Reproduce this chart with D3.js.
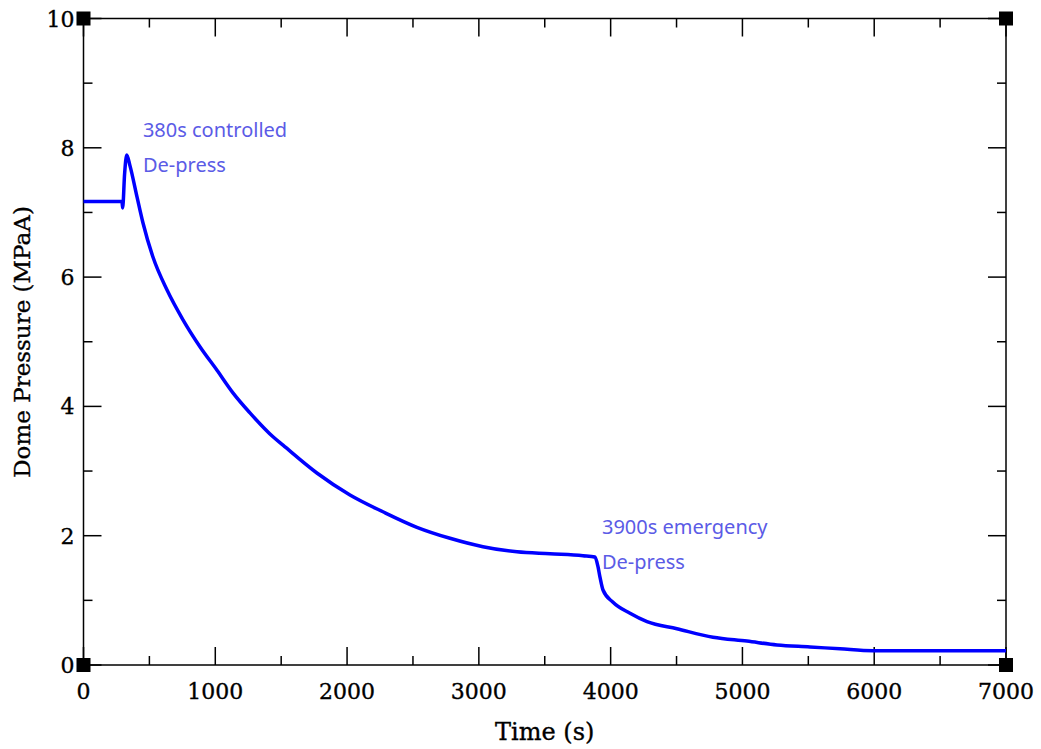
<!DOCTYPE html>
<html>
<head>
<meta charset="utf-8">
<script src="https://cdn.jsdelivr.net/npm/d3@7"></script>
<style>
  body { margin: 0; background: #fff; }
  text { font-family: "DejaVu Serif", serif; fill: #000; stroke: #000; stroke-width: 0.35px; }
  .note { font-family: "Noto Sans", "Open Sans", sans-serif; fill: #5b5be6; stroke: none; font-size: 20px; }
</style>
</head>
<body>
<svg id="chart" width="1041" height="749"></svg>
<script>
// Dome pressure trace
var timeS = [0, 200, 292, 297, 312, 328, 353, 406, 451, 527, 634, 755, 885, 1013, 1134, 1263, 1438, 1514,
  1771, 2022, 2272, 2530, 2781, 3031, 3289, 3540, 3790, 3881, 3904, 3919, 3942, 4018, 4147, 4276,
  4503, 4777, 5034, 5262, 5512, 5740, 5990, 6500, 7000];
var pressure = [7.17, 7.17, 7.17, 7.07, 7.6, 7.89, 7.72, 7.24, 6.84, 6.31, 5.80, 5.34, 4.92, 4.56, 4.21, 3.90, 3.53, 3.40,
  2.97, 2.63, 2.37, 2.13, 1.96, 1.83, 1.75, 1.72, 1.69, 1.67, 1.52, 1.36, 1.16, 0.97, 0.80, 0.67,
  0.56, 0.43, 0.37, 0.31, 0.28, 0.25, 0.22, 0.22, 0.22];

var xTicks = [0, 1000, 2000, 3000, 4000, 5000, 6000, 7000];
var yTicks = [0, 2, 4, 6, 8, 10];
var notes = [
  { t: 451, p: 8.17, lines: ["380s controlled", "De-press"] },
  { t: 3934, p: 2.03, lines: ["3900s emergency", "De-press"] }
];

var svg = d3.select("#chart");
var margin = {top: 18.5, right: 35, bottom: 84, left: 83.5};
var width = 1041 - margin.left - margin.right;
var height = 749 - margin.top - margin.bottom;

var g = svg.append("g").attr("transform", "translate(" + margin.left + "," + margin.top + ")");

var x = d3.scaleLinear().domain([0, 7000]).range([0, width]);
var y = d3.scaleLinear().domain([0, 10]).range([height, 0]);

var minorX = d3.range(0, 7001, 500);
var minorY = d3.range(0, 11, 1);

function tickLen(major) { return major ? 18 : 9; }

// frame
g.append("rect").attr("width", width).attr("height", height)
  .attr("fill", "none").attr("stroke", "#000").attr("stroke-width", 1.5);

// inward ticks on all four sides
minorX.forEach(function(v) {
  var L = tickLen(v % 1000 === 0);
  g.append("line").attr("x1", x(v)).attr("x2", x(v)).attr("y1", height).attr("y2", height - L)
    .attr("stroke", "#000").attr("stroke-width", 1.5);
  g.append("line").attr("x1", x(v)).attr("x2", x(v)).attr("y1", 0).attr("y2", L)
    .attr("stroke", "#000").attr("stroke-width", 1.5);
});
minorY.forEach(function(v) {
  var L = tickLen(v % 2 === 0);
  g.append("line").attr("x1", 0).attr("x2", L).attr("y1", y(v)).attr("y2", y(v))
    .attr("stroke", "#000").attr("stroke-width", 1.5);
  g.append("line").attr("x1", width).attr("x2", width - L).attr("y1", y(v)).attr("y2", y(v))
    .attr("stroke", "#000").attr("stroke-width", 1.5);
});

// tick labels
g.selectAll(".xl").data(xTicks).join("text")
  .attr("x", d => x(d)).attr("y", height + 34)
  .attr("text-anchor", "middle").attr("font-size", 22).text(d => d);
g.selectAll(".yl").data(yTicks).join("text")
  .attr("x", -9).attr("y", d => y(d) + 8)
  .attr("text-anchor", "end").attr("font-size", 22).text(d => d);

// corner squares
[[0, 0], [width, 0], [0, height], [width, height]].forEach(function(c) {
  g.append("rect").attr("x", c[0] - 7).attr("y", c[1] - 7).attr("width", 14).attr("height", 14).attr("fill", "#000");
});

// the trace
var line = d3.line().x((d, i) => x(timeS[i])).y(d => y(d)).curve(d3.curveMonotoneX);
g.append("path").datum(pressure)
  .attr("d", line).attr("fill", "none")
  .attr("stroke", "#0000ff").attr("stroke-width", 3.5).attr("stroke-linejoin", "round");

// notes
notes.forEach(function(n) {
  n.lines.forEach(function(s, i) {
    g.append("text").attr("class", "note")
      .attr("x", x(n.t)).attr("y", y(n.p) + i * 35).text(s);
  });
});

// axis titles
svg.append("text").attr("x", margin.left + width / 2).attr("y", 740)
  .attr("text-anchor", "middle").attr("font-size", 24).text("Time (s)");
svg.append("text").attr("transform", "translate(30," + 342 + ") rotate(-90)")
  .attr("text-anchor", "middle").attr("font-size", 23).text("Dome Pressure (MPaA)");
</script>
</body>
</html>
